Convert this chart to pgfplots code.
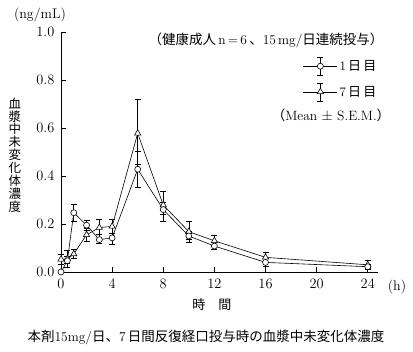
\documentclass[border=0pt]{standalone}
\usepackage{pgfplots}
\pgfplotsset{compat=1.18}
\usepackage{pgfplotstable}
\usepackage{fontspec}
\newfontfamily\cjk{Noto Sans CJK JP}
\pgfplotstableread{
t m ep em
0 0.0 0 0
0.5 0.047 0.02 0.028
1 0.247 0.036 0.037
2 0.195 0.022 0.022
3 0.135 0.02 0.015
4 0.142 0.02 0.025
6 0.428 0.076 0.075
8 0.26 0.03 0.048
10 0.15 0.02 0.028
12 0.108 0.015 0.015
16 0.04 0.015 0.015
24 0.022 0.01 0.01
}\dayone
\pgfplotstableread{
t m ep em
0 0.053 0.02 0.02
0.5 0.055 0.034 0.02
1 0.075 0.02 0.02
2 0.155 0.025 0.029
3 0.185 0.035 0.03
4 0.19 0.03 0.03
6 0.578 0.142 0.13
8 0.279 0.059 0.04
10 0.168 0.042 0.03
12 0.13 0.021 0.02
16 0.061 0.021 0.02
24 0.03 0.017 0.015
}\dayseven
\begin{document}
\begin{tikzpicture}
\path[use as bounding box] (-61pt,-80pt) rectangle (352pt,272pt);
\begin{axis}[
  at={(0pt,0pt)}, anchor=south west,
  scale only axis, width=317pt, height=240pt,
  xmin=0, xmax=24.8, ymin=0, ymax=1.0,
  axis lines*=left,
  tick align=inside, major tick length=5pt,
  xtick={0,4,...,24}, ytick={0,0.2,...,1.0},
  yticklabel style={xshift=-3pt, /pgf/number format/.cd, fixed, fixed zerofill, precision=1},
  ticklabel style={font=\fontsize{14.5}{14.5}\selectfont},
  xticklabel style={yshift=-4pt},
  axis line style={line width=0.6pt},
  every tick/.style={line width=0.6pt, black},
  clip=false,
  legend style={draw=none, fill=none, at={(0.763,0.897)}, anchor=north west,
    font=\fontsize{13}{13}\selectfont, row sep=7pt, inner sep=0pt},
  legend cell align=left,
  legend image code/.code={
    \draw[line width=0.6pt] (17pt,-9pt)--(17pt,9pt) (14pt,9pt)--(20pt,9pt) (14pt,-9pt)--(20pt,-9pt);
    \draw[mark repeat=2,mark phase=2,#1] plot coordinates {(0pt,0pt) (17pt,0pt) (34pt,0pt)};
  },
]
\addplot[forget plot, black, line width=0.6pt, mark=triangle*, mark size=3.6pt, mark options={fill=white, line width=0.6pt},
  error bars/.cd, y dir=both, y explicit,
  error bar style={line width=0.6pt},
  error mark options={rotate=90, mark size=3pt, line width=0.6pt}]
  table[x=t, y=m, y error plus=ep, y error minus=em] {\dayseven};
\addplot[forget plot, black, line width=0.6pt, mark=*, mark size=3pt, mark options={fill=white, line width=0.6pt},
  error bars/.cd, y dir=both, y explicit,
  error bar style={line width=0.6pt},
  error mark options={rotate=90, mark size=3pt, line width=0.6pt}]
  table[x=t, y=m, y error plus=ep, y error minus=em] {\dayone};
\addlegendimage{black, line width=0.6pt, mark=*, mark size=3pt, mark options={fill=white}}
\addlegendentry{1\,{\cjk 日\,目}}
\addlegendimage{black, line width=0.6pt, mark=triangle*, mark size=3.6pt, mark options={fill=white}}
\addlegendentry{7\,{\cjk 日\,目}}
\end{axis}
\node[font=\fontsize{14}{14}\selectfont] at (-21pt,257pt) {(ng/mL)};
\node[font=\fontsize{12.5}{12.9}\selectfont\cjk, align=center] at (-46pt,117pt) {血\\漿\\中\\未\\変\\化\\体\\濃\\度};
\node[font=\fontsize{13.5}{13.5}\selectfont] at (205pt,232pt) {{\cjk （健康成人}\,n\,=\,6\,{\cjk 、}15\,mg/{\cjk 日連続投与）}};
\node[font=\fontsize{13.5}{13.5}\selectfont] at (270pt,157pt) {{\cjk （}Mean $\pm$ S.E.M.{\cjk ）}};
\node[font=\fontsize{14}{14}\selectfont] at (336pt,-15pt) {(h)};
\node[font=\fontsize{13}{13}\selectfont\cjk] at (151pt,-33pt) {時　間};
\node[font=\fontsize{13.5}{13.5}\selectfont] at (145pt,-66pt) {{\cjk 本剤}15mg/{\cjk 日、}7\,{\cjk 日間反復経口投与時の血漿中未変化体濃度}};
\end{tikzpicture}
\end{document}
